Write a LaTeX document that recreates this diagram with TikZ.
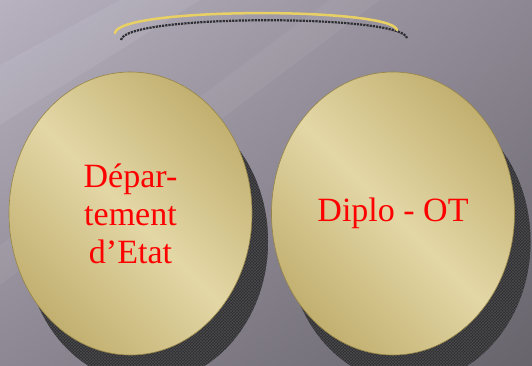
\documentclass[tikz,border=0pt]{standalone}
\usepackage{fontspec}
\setmainfont{Liberation Serif}
\usetikzlibrary{shapes.geometric,patterns,shadings}

\definecolor{bgLight}{RGB}{184,178,192}
\definecolor{bgMid}{RGB}{140,135,146}
\definecolor{bgDark}{RGB}{104,100,108}
\definecolor{goldIn}{RGB}{227,215,166}
\definecolor{goldOut}{RGB}{194,176,112}
\definecolor{goldRim}{RGB}{150,132,70}
\definecolor{haloYellow}{RGB}{232,208,100}
\definecolor{shadowGray}{RGB}{45,45,50}

\tikzset{
  bubble/.style={ellipse, draw=goldRim, line width=0.6pt,
    top color=goldOut, bottom color=goldOut, middle color=goldIn, shading angle=-45,
    minimum width=243pt, minimum height=283pt, inner sep=0pt,
    text=red, align=center, font=\fontsize{34}{38}\selectfont},
  bubbleshadow/.style={ellipse, minimum width=243pt, minimum height=283pt,
    preaction={fill=shadowGray}, pattern=crosshatch, pattern color=gray!60!black},
}

\begin{document}
\begin{tikzpicture}[x=1pt, y=1pt]

        % Background
        \shade[upper left=bgLight, upper right=bgMid, lower left=bgMid, lower right=bgDark]
          (0,0) rectangle (532,365);
        \useasboundingbox (0,0) rectangle (532,365);

        % Faint diagonal streaks
        \fill[white, opacity=0.07] (0,300) -- (120,365) -- (200,365) -- (0,240) -- cycle;
        \fill[white, opacity=0.05] (0,120) -- (330,365) -- (380,365) -- (0,80) -- cycle;

        % Halo above the circles
        \draw[shadowGray, line width=2.2pt, densely dotted]
          (121,325) .. controls (124,351) and (402,351) .. (407,327);
        \draw[haloYellow, line width=2.5pt, line cap=round]
          (115,332) .. controls (118,358) and (392,358) .. (397,335);

        % Shadows of the circles
        \node[bubbleshadow] (deptShadow) at (146.5,123.5) {};
        \node[bubbleshadow] (diploShadow) at (409,123.5) {};

        % The two circles
        \node[bubble] (dept) at (130.5,151.5) {Dépar-\\tement\\d’Etat};
        \node[bubble] (diplo) at (393,151.5) {Diplo - OT};

\end{tikzpicture}
\end{document}
